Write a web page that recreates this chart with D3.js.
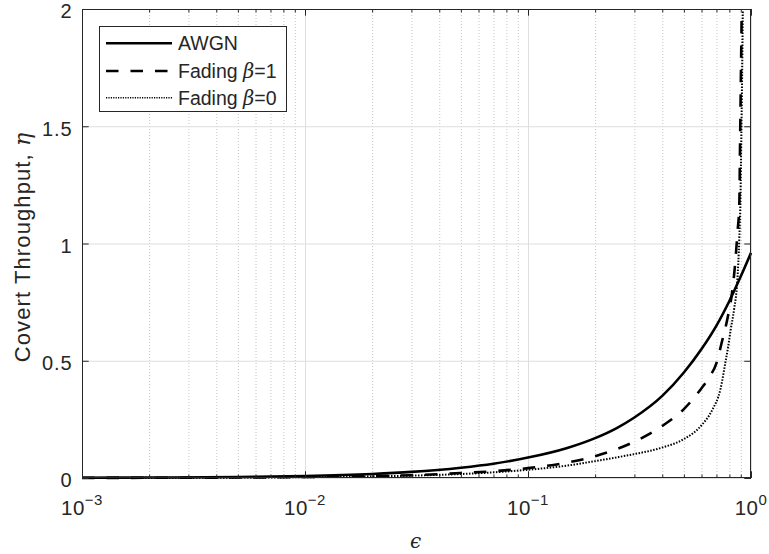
<!DOCTYPE html>
<html>
<head>
<meta charset="utf-8">
<script src="https://cdn.jsdelivr.net/npm/d3@7"></script>
<style>
  body { margin: 0; background: #fff; }
  svg { display: block; }
  text { font-family: "Liberation Sans", Arial, Helvetica, sans-serif; fill: #262626; }
  .math { font-family: "DejaVu Serif", "Liberation Serif", serif; font-style: italic; }
</style>
</head>
<body>
<svg id="chart" width="769" height="554"></svg>
<script>
// Covert throughput η versus ε for the three channel models
const epsAWGN = [0.001, 0.002, 0.005, 0.01, 0.02, 0.03, 0.05, 0.07, 0.1, 0.15, 0.2, 0.25, 0.3, 0.4, 0.5, 0.6, 0.7, 0.8, 0.9, 1.0];
const etaAWGN = [0.001, 0.002, 0.004, 0.008, 0.017, 0.026, 0.044, 0.061, 0.087, 0.128, 0.17, 0.213, 0.258, 0.35, 0.45, 0.55, 0.65, 0.755, 0.86, 0.96];

const epsFading1 = [0.001, 0.002, 0.005, 0.01, 0.02, 0.03, 0.05, 0.07, 0.1, 0.15, 0.2, 0.25, 0.3, 0.4, 0.5, 0.6, 0.65, 0.7, 0.74, 0.79, 0.83, 0.85, 0.87, 0.886, 0.893, 0.9, 0.908, 0.915];
const etaFading1 = [0.0004, 0.0009, 0.002, 0.004, 0.008, 0.012, 0.021, 0.029, 0.042, 0.066, 0.093, 0.123, 0.155, 0.222, 0.294, 0.383, 0.43, 0.49, 0.58, 0.695, 0.82, 0.92, 1.05, 1.16, 1.42, 1.68, 1.97, 2.3];

const epsFading0 = [0.001, 0.002, 0.005, 0.01, 0.02, 0.03, 0.05, 0.07, 0.1, 0.15, 0.2, 0.25, 0.3, 0.4, 0.5, 0.6, 0.67, 0.73, 0.77, 0.79, 0.81, 0.84, 0.868, 0.886, 0.897, 0.905, 0.912, 0.918, 0.924];
const etaFading0 = [0.0003, 0.0006, 0.0016, 0.0033, 0.007, 0.01, 0.017, 0.024, 0.035, 0.053, 0.072, 0.088, 0.102, 0.13, 0.166, 0.225, 0.29, 0.38, 0.5, 0.56, 0.63, 0.72, 0.84, 1.02, 1.2, 1.45, 1.7, 1.95, 2.25];

const xMajorTicks = [0.001, 0.01, 0.1, 1];
const xTickExponents = ["−3", "−2", "−1", "0"];
const yTicks = [0, 0.5, 1, 1.5, 2];
const yTickLabels = ["0", "0.5", "1", "1.5", "2"];

const legendNames = ["AWGN", "Fading ", "Fading "];
const legendSymbols = ["", "β", "β"];
const legendSuffix = ["", "=1", "=0"];

const plot = { left: 82, right: 751, top: 9, bottom: 478 };
const svg = d3.select("#chart");

const x = d3.scaleLog().domain([1e-3, 1]).range([plot.left, plot.right]);
const y = d3.scaleLinear().domain([0, 2]).range([plot.bottom, plot.top]);
const plotH = plot.bottom - plot.top;
const plotW = plot.right - plot.left;

// minor decade positions 2..9 × 10^k
const xMinorTicks = [];
[0.001, 0.01, 0.1].forEach(d => { for (let m = 2; m <= 9; m++) xMinorTicks.push(+(d * m).toPrecision(3)); });

// background
svg.append("rect").attr("x", plot.left).attr("y", plot.top).attr("width", plotW).attr("height", plotH).attr("fill", "#fff");

// grid: minor x (dotted), major x and y (solid)
svg.append("g").attr("class", "grid-minor")
  .attr("transform", `translate(0,${plot.bottom})`)
  .call(d3.axisBottom(x).tickValues(xMinorTicks).tickSize(-plotH).tickFormat(""))
  .call(g => g.select(".domain").remove())
  .call(g => g.selectAll("line").attr("stroke", "#c4c4c4").attr("stroke-dasharray", "1,2").attr("stroke-width", 1));

svg.append("g").attr("class", "grid-major-x")
  .attr("transform", `translate(0,${plot.bottom})`)
  .call(d3.axisBottom(x).tickValues(xMajorTicks).tickSize(-plotH).tickFormat(""))
  .call(g => g.select(".domain").remove())
  .call(g => g.selectAll("line").attr("stroke", "#dedede").attr("stroke-width", 1));

svg.append("g").attr("class", "grid-major-y")
  .attr("transform", `translate(${plot.left},0)`)
  .call(d3.axisLeft(y).tickValues(yTicks).tickSize(-plotW).tickFormat(""))
  .call(g => g.select(".domain").remove())
  .call(g => g.selectAll("line").attr("stroke", "#dedede").attr("stroke-width", 1));

// curves
const clipId = "plot-clip";
svg.append("clipPath").attr("id", clipId)
  .append("rect").attr("x", plot.left - 2).attr("y", plot.top).attr("width", plotW + 4).attr("height", plotH + 3);

const line = d3.line().x(d => x(d[0])).y(d => y(d[1])).curve(d3.curveMonotoneX);
const series = [
  { eps: epsAWGN, eta: etaAWGN, width: 2.6, dash: null },
  { eps: epsFading1, eta: etaFading1, width: 2.6, dash: "12.5,12" },
  { eps: epsFading0, eta: etaFading0, width: 2, dash: "1.5,1.5" }
];
const curves = svg.append("g").attr("clip-path", `url(#${clipId})`);
series.forEach(s => {
  curves.append("path")
    .datum(s.eps.map((e, i) => [e, s.eta[i]]))
    .attr("d", line)
    .attr("fill", "none")
    .attr("stroke", "#000")
    .attr("stroke-width", s.width)
    .attr("stroke-dasharray", s.dash)
    .attr("stroke-linejoin", "round");
});

// axes ticks (inward on all four sides)
const axisColor = "#262626";
function styleTicks(g) {
  g.select(".domain").remove();
  g.selectAll("line").attr("stroke", axisColor).attr("stroke-width", 1);
}
svg.append("g").attr("transform", `translate(0,${plot.bottom})`)
  .call(d3.axisBottom(x).tickValues(xMajorTicks).tickSize(-6.7).tickFormat("")).call(styleTicks);
svg.append("g").attr("transform", `translate(0,${plot.bottom})`)
  .call(d3.axisBottom(x).tickValues(xMinorTicks).tickSize(-3.4).tickFormat("")).call(styleTicks);
svg.append("g").attr("transform", `translate(0,${plot.top})`)
  .call(d3.axisTop(x).tickValues(xMajorTicks).tickSize(-6.7).tickFormat("")).call(styleTicks);
svg.append("g").attr("transform", `translate(0,${plot.top})`)
  .call(d3.axisTop(x).tickValues(xMinorTicks).tickSize(-3.4).tickFormat("")).call(styleTicks);
svg.append("g").attr("transform", `translate(${plot.left},0)`)
  .call(d3.axisLeft(y).tickValues(yTicks).tickSize(-6.7).tickFormat("")).call(styleTicks);
svg.append("g").attr("transform", `translate(${plot.right},0)`)
  .call(d3.axisRight(y).tickValues(yTicks).tickSize(-6.7).tickFormat("")).call(styleTicks);

// frame
svg.append("rect")
  .attr("x", plot.left + 0.5).attr("y", plot.top + 0.5)
  .attr("width", plotW - 1).attr("height", plotH - 1)
  .attr("fill", "none").attr("stroke", axisColor).attr("stroke-width", 1);

// y tick labels
svg.append("g").selectAll("text").data(yTicks).join("text")
  .attr("x", plot.left - 9.5)
  .attr("y", d => y(d) + 9.3)
  .attr("text-anchor", "end")
  .style("font-size", "20px")
  .style("letter-spacing", "0.9px")
  .text((d, i) => yTickLabels[i]);

// x tick labels: 10 with superscript exponent
const xl = svg.append("g").selectAll("text").data(xMajorTicks).join("text")
  .attr("x", d => x(d))
  .attr("y", 515)
  .attr("text-anchor", "middle")
  .style("font-size", "20.5px")
  .style("letter-spacing", "0.5px");
xl.append("tspan").text("10");
xl.append("tspan").attr("dy", -10).style("font-size", "15px").text((d, i) => xTickExponents[i]);

// axis titles
svg.append("text")
  .attr("x", (plot.left + plot.right) / 2 - 1)
  .attr("y", 548)
  .attr("text-anchor", "middle")
  .attr("class", "math")
  .style("font-size", "20px")
  .text("ϵ");

const yt = svg.append("text")
  .attr("transform", `translate(29.5,247) rotate(-90)`)
  .attr("text-anchor", "middle")
  .style("font-size", "22px")
  .style("letter-spacing", "1.1px");
yt.append("tspan").text("Covert Throughput, ");
yt.append("tspan").attr("class", "math").text("η");

// legend
const lg = svg.append("g");
lg.append("rect").attr("x", 99.5).attr("y", 26.5).attr("width", 187).attr("height", 85)
  .attr("fill", "#fff").attr("stroke", axisColor).attr("stroke-width", 1);
const rowY = [43.3, 71, 97.7];
series.forEach((s, i) => {
  lg.append("line")
    .attr("x1", 106).attr("x2", 172).attr("y1", rowY[i]).attr("y2", rowY[i])
    .attr("stroke", "#000")
    .attr("stroke-width", i === 2 ? 1.4 : s.width)
    .attr("stroke-dasharray", i === 2 ? "1.2,1.2" : s.dash);
  const t = lg.append("text").attr("x", 178).attr("y", rowY[i] + 7).style("font-size", "19.5px");
  t.append("tspan").text(legendNames[i]);
  if (legendSymbols[i]) {
    t.append("tspan").attr("class", "math").text(legendSymbols[i]);
    t.append("tspan").text(legendSuffix[i]);
  }
});
</script>
</body>
</html>
